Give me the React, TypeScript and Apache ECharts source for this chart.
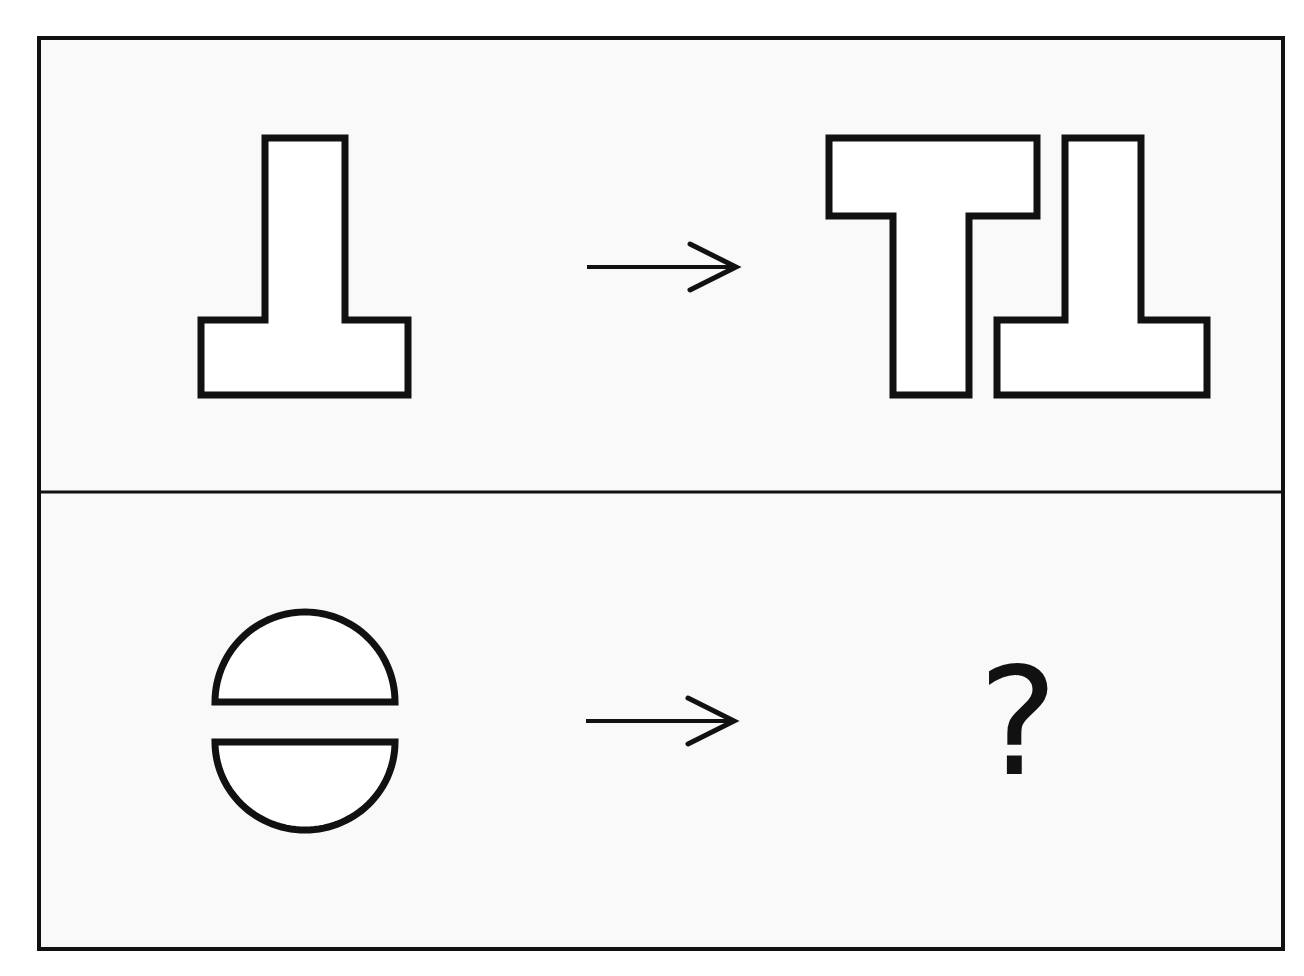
import { useEffect, useRef } from 'react';
import * as echarts from 'echarts';

// Outline points of the pieces (page pixels)
const FRAME = [[39, 38], [1283, 38], [1283, 949], [39, 949]];
const DIVIDER_Y = 492;
const INV_T_LEFT = [[265, 138], [345, 138], [345, 320], [408, 320], [408, 395], [201, 395], [201, 320], [265, 320]];
const T_RIGHT = [[829, 138], [1037, 138], [1037, 216], [969, 216], [969, 395], [893, 395], [893, 216], [829, 216]];
const INV_T_RIGHT = [[1065, 138], [1141, 138], [1141, 320], [1207, 320], [1207, 395], [997, 395], [997, 320], [1065, 320]];
const ARROWS = [
  { x1: 587, x2: 736, y: 267 },
  { x1: 586, x2: 734, y: 721 },
];
const HALF_TOP = { cx: 305, cy: 702, rx: 90, ry: 90 };
const HALF_BOTTOM = { cx: 305, cy: 742, rx: 90, ry: 88 };

const INK = '#111111';

function halfEllipse(h: { cx: number; cy: number; rx: number; ry: number }, dir: number) {
  const pts: number[][] = [];
  for (let i = 0; i <= 60; i++) {
    const a = Math.PI * (i / 60);
    pts.push([h.cx - h.rx * Math.cos(a), h.cy + dir * h.ry * Math.sin(a)]);
  }
  return pts;
}

export default function App() {
  const ref = useRef<HTMLDivElement>(null);

  useEffect(() => {
    if (!ref.current) return;
    const chart = echarts.init(ref.current, undefined, { renderer: 'svg' });
    const outline = { fill: '#ffffff', stroke: INK, lineWidth: 7, lineJoin: 'miter' };
    const elements: any[] = [
      { type: 'polygon', shape: { points: FRAME }, style: { fill: '#f9f9f9', stroke: INK, lineWidth: 4 } },
      { type: 'line', shape: { x1: 39, y1: DIVIDER_Y, x2: 1283, y2: DIVIDER_Y }, style: { stroke: INK, lineWidth: 3 } },
      { type: 'polygon', shape: { points: INV_T_LEFT }, style: outline },
      { type: 'polygon', shape: { points: T_RIGHT }, style: outline },
      { type: 'polygon', shape: { points: INV_T_RIGHT }, style: outline },
      { type: 'polygon', shape: { points: halfEllipse(HALF_TOP, -1) }, style: outline },
      { type: 'polygon', shape: { points: halfEllipse(HALF_BOTTOM, 1) }, style: outline },
      {
        type: 'text', x: 1018, y: 722,
        style: { text: '?', fontSize: 150, fontFamily: 'DejaVu Sans', fill: INK, align: 'center', verticalAlign: 'middle' },
      },
    ];
    ARROWS.forEach((a) => {
      elements.push({ type: 'line', shape: { x1: a.x1, y1: a.y, x2: a.x2 - 4, y2: a.y }, style: { stroke: INK, lineWidth: 4 } });
      elements.push({
        type: 'polyline',
        shape: { points: [[a.x2 - 46, a.y - 23], [a.x2, a.y], [a.x2 - 46, a.y + 23]] },
        style: { stroke: INK, lineWidth: 5, fill: 'none', lineCap: 'round' },
      });
    });
    chart.setOption({ animation: false, backgroundColor: '#ffffff', graphic: { elements } });
    return () => chart.dispose();
  }, []);

  return <div ref={ref} style={{ position: 'fixed', left: 0, top: 0, width: 1304, height: 976 }} />;
}
